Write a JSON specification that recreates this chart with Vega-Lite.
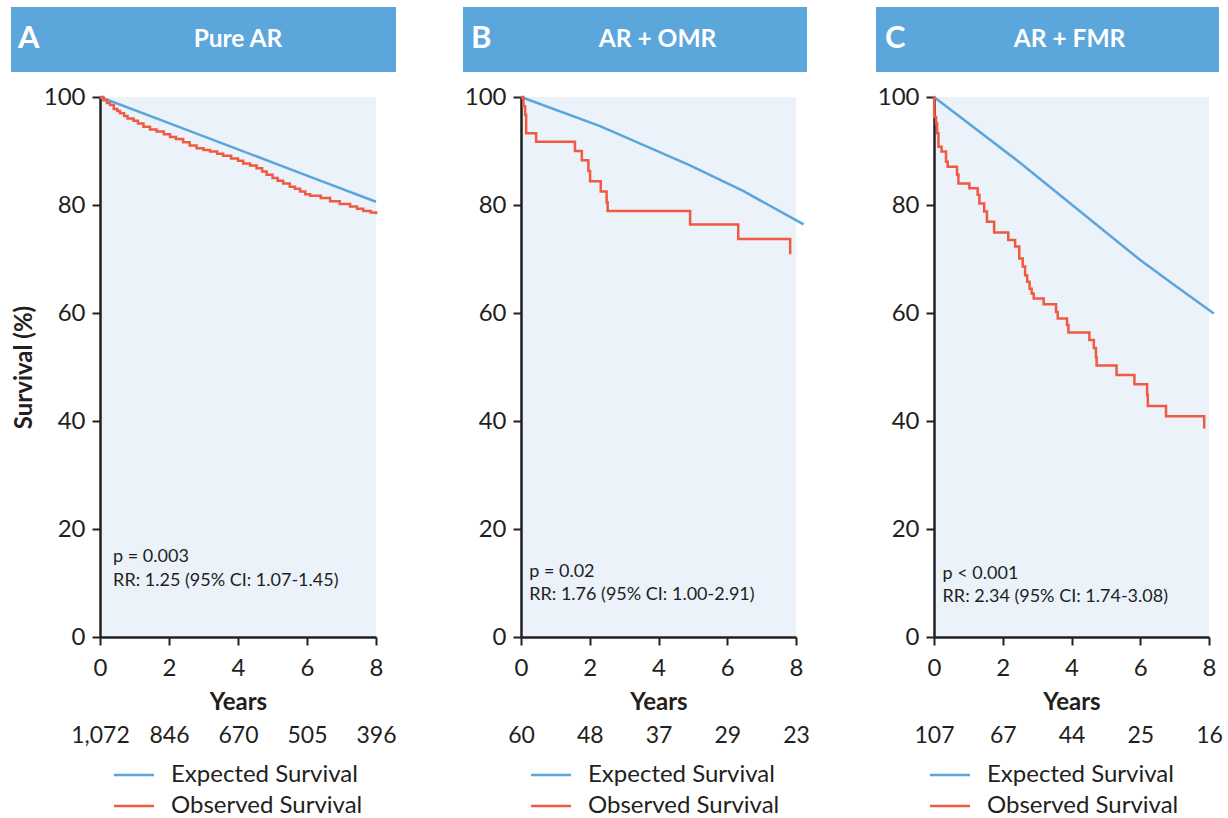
{
  "$schema": "https://vega.github.io/schema/vega-lite/v6.json",
  "padding": {"left": 11, "top": 7, "right": 0, "bottom": 0},
  "background": "white",
  "config": {
    "font": "Lato",
    "view": {"stroke": null},
    "axis": {"grid": false, "domainColor": "#231F20", "domainWidth": 2.5, "tickColor": "#231F20", "tickWidth": 2, "tickSize": 8, "labelFontSize": 24, "labelColor": "#231F20", "titleColor": "#231F20", "titleFontSize": 24, "titleFontWeight": "bold", "labelFont": "Lato", "titleFont": "Lato", "labelFlush": false, "labelOverlap": false},
    "legend": {"labelFontSize": 24, "labelColor": "#231F20", "labelFont": "Lato", "labelLimit": 400},
    "title": {"font": "Lato"},
    "text": {"font": "Lato"}
  },
  "datasets": {
    "curveA": [
      {"series": "Expected Survival", "t": 0, "s": 100},
      {"series": "Expected Survival", "t": 2, "s": 95.15},
      {"series": "Expected Survival", "t": 4, "s": 90.3},
      {"series": "Expected Survival", "t": 6, "s": 85.45},
      {"series": "Expected Survival", "t": 8, "s": 80.6},
      {"series": "Observed Survival", "t": 0, "s": 100},
      {"series": "Observed Survival", "t": 0.1, "s": 99.4},
      {"series": "Observed Survival", "t": 0.2, "s": 98.9},
      {"series": "Observed Survival", "t": 0.29, "s": 98.5},
      {"series": "Observed Survival", "t": 0.4, "s": 97.8},
      {"series": "Observed Survival", "t": 0.5, "s": 97.4},
      {"series": "Observed Survival", "t": 0.58, "s": 97.0},
      {"series": "Observed Survival", "t": 0.7, "s": 96.5},
      {"series": "Observed Survival", "t": 0.8, "s": 96.0},
      {"series": "Observed Survival", "t": 0.97, "s": 95.6},
      {"series": "Observed Survival", "t": 1.1, "s": 95.1},
      {"series": "Observed Survival", "t": 1.26, "s": 94.5},
      {"series": "Observed Survival", "t": 1.45, "s": 94.0},
      {"series": "Observed Survival", "t": 1.64, "s": 93.6},
      {"series": "Observed Survival", "t": 1.85, "s": 93.1},
      {"series": "Observed Survival", "t": 2.03, "s": 92.6},
      {"series": "Observed Survival", "t": 2.2, "s": 92.2},
      {"series": "Observed Survival", "t": 2.41, "s": 91.6},
      {"series": "Observed Survival", "t": 2.6, "s": 91.0},
      {"series": "Observed Survival", "t": 2.8, "s": 90.5},
      {"series": "Observed Survival", "t": 3.0, "s": 90.2},
      {"series": "Observed Survival", "t": 3.19, "s": 89.9},
      {"series": "Observed Survival", "t": 3.4, "s": 89.5},
      {"series": "Observed Survival", "t": 3.57, "s": 89.1},
      {"series": "Observed Survival", "t": 3.8, "s": 88.6},
      {"series": "Observed Survival", "t": 4.0, "s": 88.2},
      {"series": "Observed Survival", "t": 4.15, "s": 87.7},
      {"series": "Observed Survival", "t": 4.35, "s": 87.3},
      {"series": "Observed Survival", "t": 4.54, "s": 86.8},
      {"series": "Observed Survival", "t": 4.7, "s": 86.2},
      {"series": "Observed Survival", "t": 4.83, "s": 85.6},
      {"series": "Observed Survival", "t": 5.0, "s": 85.0},
      {"series": "Observed Survival", "t": 5.15, "s": 84.5},
      {"series": "Observed Survival", "t": 5.31, "s": 84.0},
      {"series": "Observed Survival", "t": 5.5, "s": 83.4},
      {"series": "Observed Survival", "t": 5.65, "s": 83.0},
      {"series": "Observed Survival", "t": 5.8, "s": 82.5},
      {"series": "Observed Survival", "t": 5.95, "s": 82.0},
      {"series": "Observed Survival", "t": 6.09, "s": 81.7},
      {"series": "Observed Survival", "t": 6.4, "s": 81.3},
      {"series": "Observed Survival", "t": 6.67, "s": 80.7},
      {"series": "Observed Survival", "t": 6.95, "s": 80.2},
      {"series": "Observed Survival", "t": 7.25, "s": 79.7},
      {"series": "Observed Survival", "t": 7.45, "s": 79.3},
      {"series": "Observed Survival", "t": 7.63, "s": 78.9},
      {"series": "Observed Survival", "t": 7.85, "s": 78.6},
      {"series": "Observed Survival", "t": 8.0, "s": 78.3}
    ],
    "curveB": [
      {"series": "Expected Survival", "t": 0, "s": 100},
      {"series": "Expected Survival", "t": 2.3, "s": 94.6},
      {"series": "Expected Survival", "t": 4.9, "s": 87.4},
      {"series": "Expected Survival", "t": 6.46, "s": 82.6},
      {"series": "Expected Survival", "t": 8.22, "s": 76.4},
      {"series": "Observed Survival", "t": 0, "s": 100},
      {"series": "Observed Survival", "t": 0.07, "s": 98.3},
      {"series": "Observed Survival", "t": 0.12, "s": 96.7},
      {"series": "Observed Survival", "t": 0.15, "s": 93.3},
      {"series": "Observed Survival", "t": 0.44, "s": 91.7},
      {"series": "Observed Survival", "t": 1.57, "s": 90.0},
      {"series": "Observed Survival", "t": 1.77, "s": 88.3},
      {"series": "Observed Survival", "t": 1.96, "s": 86.3},
      {"series": "Observed Survival", "t": 2.01, "s": 84.4},
      {"series": "Observed Survival", "t": 2.32, "s": 82.5},
      {"series": "Observed Survival", "t": 2.49, "s": 80.5},
      {"series": "Observed Survival", "t": 2.52, "s": 78.9},
      {"series": "Observed Survival", "t": 4.92, "s": 76.4},
      {"series": "Observed Survival", "t": 6.32, "s": 73.7},
      {"series": "Observed Survival", "t": 7.83, "s": 70.9}
    ],
    "curveC": [
      {"series": "Expected Survival", "t": 0, "s": 100},
      {"series": "Expected Survival", "t": 2.53, "s": 87.7},
      {"series": "Expected Survival", "t": 6, "s": 69.8},
      {"series": "Expected Survival", "t": 6.99, "s": 65.2},
      {"series": "Expected Survival", "t": 8.14, "s": 59.9},
      {"series": "Observed Survival", "t": 0, "s": 100},
      {"series": "Observed Survival", "t": 0.005, "s": 96.3},
      {"series": "Observed Survival", "t": 0.06, "s": 95.1},
      {"series": "Observed Survival", "t": 0.09, "s": 93.3},
      {"series": "Observed Survival", "t": 0.13, "s": 90.8},
      {"series": "Observed Survival", "t": 0.22, "s": 89.9},
      {"series": "Observed Survival", "t": 0.35, "s": 88.0},
      {"series": "Observed Survival", "t": 0.4, "s": 87.1},
      {"series": "Observed Survival", "t": 0.67, "s": 85.6},
      {"series": "Observed Survival", "t": 0.71, "s": 84.0},
      {"series": "Observed Survival", "t": 1.03, "s": 83.1},
      {"series": "Observed Survival", "t": 1.27, "s": 81.9},
      {"series": "Observed Survival", "t": 1.32, "s": 80.3},
      {"series": "Observed Survival", "t": 1.46, "s": 78.8},
      {"series": "Observed Survival", "t": 1.54, "s": 76.9},
      {"series": "Observed Survival", "t": 1.75, "s": 74.9},
      {"series": "Observed Survival", "t": 2.16, "s": 73.5},
      {"series": "Observed Survival", "t": 2.36, "s": 72.3},
      {"series": "Observed Survival", "t": 2.48, "s": 70.1},
      {"series": "Observed Survival", "t": 2.58, "s": 68.6},
      {"series": "Observed Survival", "t": 2.65, "s": 67.0},
      {"series": "Observed Survival", "t": 2.71, "s": 65.8},
      {"series": "Observed Survival", "t": 2.78, "s": 64.5},
      {"series": "Observed Survival", "t": 2.84, "s": 63.6},
      {"series": "Observed Survival", "t": 2.9, "s": 62.7},
      {"series": "Observed Survival", "t": 3.19, "s": 61.6},
      {"series": "Observed Survival", "t": 3.55, "s": 60.2},
      {"series": "Observed Survival", "t": 3.6, "s": 59.0},
      {"series": "Observed Survival", "t": 3.87, "s": 57.8},
      {"series": "Observed Survival", "t": 3.91, "s": 56.4},
      {"series": "Observed Survival", "t": 4.52, "s": 55.0},
      {"series": "Observed Survival", "t": 4.65, "s": 53.5},
      {"series": "Observed Survival", "t": 4.71, "s": 51.8},
      {"series": "Observed Survival", "t": 4.73, "s": 50.3},
      {"series": "Observed Survival", "t": 5.31, "s": 48.5},
      {"series": "Observed Survival", "t": 5.83, "s": 46.8},
      {"series": "Observed Survival", "t": 6.2, "s": 44.8},
      {"series": "Observed Survival", "t": 6.22, "s": 42.8},
      {"series": "Observed Survival", "t": 6.75, "s": 40.9},
      {"series": "Observed Survival", "t": 7.86, "s": 38.6}
    ],
    "riskA": [{"n": "1,072"}, {"n": "846"}, {"n": "670"}, {"n": "505"}, {"n": "396"}],
    "riskB": [{"n": "60"}, {"n": "48"}, {"n": "37"}, {"n": "29"}, {"n": "23"}],
    "riskC": [{"n": "107"}, {"n": "67"}, {"n": "44"}, {"n": "25"}, {"n": "16"}],
    "blank": [{}]
  },
  "spacing": 66,
  "resolve": {"scale": {"color": "independent"}, "legend": {"color": "independent"}},
  "hconcat": [
    {
      "spacing": 13,
      "resolve": {"scale": {"color": "independent"}, "legend": {"color": "independent"}},
      "vconcat": [
        {
          "width": 385, "height": 65,
          "view": {"fill": "#5BA6DA", "stroke": null},
          "data": {"values": [{"name": "Pure AR"}]},
          "title": {"text": "A", "orient": "top", "anchor": "start", "frame": "group", "offset": -72, "dx": 7, "fontSize": 31, "fontWeight": "bold", "color": "white", "baseline": "alphabetic"},
          "mark": {"type": "text", "color": "white", "fontSize": 24.5, "fontWeight": "bold", "dx": 34.5},
          "encoding": {"text": {"field": "name", "type": "nominal"}}
        },
        {
          "spacing": 0,
          "resolve": {"scale": {"color": "independent"}, "legend": {"color": "independent"}},
          "hconcat": [
            {
              "width": 1, "height": 540,
              "data": {"name": "blank"},
              "mark": {"type": "rect", "opacity": 0},
              "encoding": {}
            },
            {
              "width": 276, "height": 540,
              "view": {"fill": "#EBF2FA", "stroke": null},
              "resolve": {"scale": {"x": "independent"}, "axis": {"x": "independent"}},
              "layer": [
                {
                  "layer": [
                    {
                      "data": {"name": "curveA"},
                      "transform": [{"filter": "datum.series === 'Expected Survival'"}],
                      "mark": {"type": "line", "strokeWidth": 2.5},
                      "encoding": {
                        "x": {"field": "t", "type": "quantitative", "scale": {"domain": [0, 8], "nice": false}, "axis": {"values": [0, 2, 4, 6, 8], "title": "Years", "labelPadding": 11, "titlePadding": 10}},
                        "y": {"field": "s", "type": "quantitative", "scale": {"domain": [0, 100], "nice": false}, "axis": {"values": [0, 20, 40, 60, 80, 100], "title": "Survival (%)", "titleFontSize": 24, "titlePadding": 7, "labelPadding": 7}},
                        "color": {"field": "series", "type": "nominal", "scale": {"domain": ["Expected Survival", "Observed Survival"], "range": ["#5AA5DB", "#F05A40"]},
                          "legend": {"orient": "none", "legendX": 22, "legendY": 666, "direction": "vertical", "title": null, "symbolType": "M-2,0H2", "symbolSize": 400, "symbolStrokeWidth": 2.5, "labelOffset": 25, "rowPadding": 7}}
                      }
                    },
                    {
                      "data": {"name": "curveA"},
                      "transform": [{"filter": "datum.series === 'Observed Survival'"}],
                      "mark": {"type": "line", "strokeWidth": 2.5, "interpolate": "step-after"},
                      "encoding": {
                        "x": {"field": "t", "type": "quantitative"},
                        "y": {"field": "s", "type": "quantitative"},
                        "color": {"field": "series", "type": "nominal"}
                      }
                    },
                    {
                      "data": {"values": [{"label": ["p = 0.003", "RR: 1.25 (95% CI: 1.07-1.45)"]}]},
                      "mark": {"type": "text", "align": "left", "baseline": "middle", "fontSize": 18, "lineHeight": 23.5, "color": "#231F20"},
                      "encoding": {
                        "x": {"datum": 0.38, "type": "quantitative"},
                        "y": {"datum": 14.8, "type": "quantitative"},
                        "text": {"field": "label", "type": "nominal"}
                      }
                    }
                  ]
                },
                {
                  "data": {"name": "riskA"},
                  "mark": {"type": "point", "opacity": 0},
                  "encoding": {
                    "x": {"field": "n", "type": "ordinal", "sort": null, "scale": {"type": "point", "padding": 0}, "axis": {"orient": "bottom", "offset": 83, "domain": false, "ticks": false, "labelPadding": 4, "labelFontSize": 23, "title": null, "labelAngle": 0}}
                  }
                }
              ]
            }
          ]
        }
      ]
    },
    {
      "spacing": 13,
      "resolve": {"scale": {"color": "independent"}, "legend": {"color": "independent"}},
      "vconcat": [
        {
          "width": 344, "height": 65,
          "view": {"fill": "#5BA6DA", "stroke": null},
          "data": {"values": [{"name": "AR + OMR"}]},
          "title": {"text": "B", "orient": "top", "anchor": "start", "frame": "group", "offset": -72, "dx": 8, "fontSize": 31, "fontWeight": "bold", "color": "white", "baseline": "alphabetic"},
          "mark": {"type": "text", "color": "white", "fontSize": 24.5, "fontWeight": "bold", "dx": 22.5},
          "encoding": {"text": {"field": "name", "type": "nominal"}}
        },
        {
          "spacing": 0,
          "resolve": {"scale": {"color": "independent"}, "legend": {"color": "independent"}},
          "hconcat": [
            {
              "width": 1, "height": 540,
              "data": {"name": "blank"},
              "mark": {"type": "rect", "opacity": 0},
              "encoding": {}
            },
            {
              "width": 275, "height": 540,
              "view": {"fill": "#EBF2FA", "stroke": null},
              "resolve": {"scale": {"x": "independent"}, "axis": {"x": "independent"}},
              "layer": [
                {
                  "layer": [
                    {
                      "data": {"name": "curveB"},
                      "transform": [{"filter": "datum.series === 'Expected Survival'"}],
                      "mark": {"type": "line", "strokeWidth": 2.5},
                      "encoding": {
                        "x": {"field": "t", "type": "quantitative", "scale": {"domain": [0, 8], "nice": false}, "axis": {"values": [0, 2, 4, 6, 8], "title": "Years", "labelPadding": 11, "titlePadding": 10}},
                        "y": {"field": "s", "type": "quantitative", "scale": {"domain": [0, 100], "nice": false}, "axis": {"values": [0, 20, 40, 60, 80, 100], "title": null, "labelPadding": 7}},
                        "color": {"field": "series", "type": "nominal", "scale": {"domain": ["Expected Survival", "Observed Survival"], "range": ["#5AA5DB", "#F05A40"]},
                          "legend": {"orient": "none", "legendX": 18, "legendY": 666, "direction": "vertical", "title": null, "symbolType": "M-2,0H2", "symbolSize": 400, "symbolStrokeWidth": 2.5, "labelOffset": 25, "rowPadding": 7}}
                      }
                    },
                    {
                      "data": {"name": "curveB"},
                      "transform": [{"filter": "datum.series === 'Observed Survival'"}],
                      "mark": {"type": "line", "strokeWidth": 2.5, "interpolate": "step-after"},
                      "encoding": {
                        "x": {"field": "t", "type": "quantitative"},
                        "y": {"field": "s", "type": "quantitative"},
                        "color": {"field": "series", "type": "nominal"}
                      }
                    },
                    {
                      "data": {"values": [{"label": ["p = 0.02", "RR: 1.76 (95% CI: 1.00-2.91)"]}]},
                      "mark": {"type": "text", "align": "left", "baseline": "middle", "fontSize": 18, "lineHeight": 23.5, "color": "#231F20"},
                      "encoding": {
                        "x": {"datum": 0.24, "type": "quantitative"},
                        "y": {"datum": 12.05, "type": "quantitative"},
                        "text": {"field": "label", "type": "nominal"}
                      }
                    }
                  ]
                },
                {
                  "data": {"name": "riskB"},
                  "mark": {"type": "point", "opacity": 0},
                  "encoding": {
                    "x": {"field": "n", "type": "ordinal", "sort": null, "scale": {"type": "point", "padding": 0}, "axis": {"orient": "bottom", "offset": 83, "domain": false, "ticks": false, "labelPadding": 4, "labelFontSize": 23, "title": null, "labelAngle": 0}}
                  }
                }
              ]
            }
          ]
        }
      ]
    },
    {
      "spacing": 13,
      "resolve": {"scale": {"color": "independent"}, "legend": {"color": "independent"}},
      "vconcat": [
        {
          "width": 343, "height": 65,
          "view": {"fill": "#5BA6DA", "stroke": null},
          "data": {"values": [{"name": "AR + FMR"}]},
          "title": {"text": "C", "orient": "top", "anchor": "start", "frame": "group", "offset": -72, "dx": 9, "fontSize": 31, "fontWeight": "bold", "color": "white", "baseline": "alphabetic"},
          "mark": {"type": "text", "color": "white", "fontSize": 24.5, "fontWeight": "bold", "dx": 22},
          "encoding": {"text": {"field": "name", "type": "nominal"}}
        },
        {
          "spacing": 0,
          "resolve": {"scale": {"color": "independent"}, "legend": {"color": "independent"}},
          "hconcat": [
            {
              "width": 1, "height": 540,
              "data": {"name": "blank"},
              "mark": {"type": "rect", "opacity": 0},
              "encoding": {}
            },
            {
              "width": 275, "height": 540,
              "view": {"fill": "#EBF2FA", "stroke": null},
              "resolve": {"scale": {"x": "independent"}, "axis": {"x": "independent"}},
              "layer": [
                {
                  "layer": [
                    {
                      "data": {"name": "curveC"},
                      "transform": [{"filter": "datum.series === 'Expected Survival'"}],
                      "mark": {"type": "line", "strokeWidth": 2.5},
                      "encoding": {
                        "x": {"field": "t", "type": "quantitative", "scale": {"domain": [0, 8], "nice": false}, "axis": {"values": [0, 2, 4, 6, 8], "title": "Years", "labelPadding": 11, "titlePadding": 10}},
                        "y": {"field": "s", "type": "quantitative", "scale": {"domain": [0, 100], "nice": false}, "axis": {"values": [0, 20, 40, 60, 80, 100], "title": null, "labelPadding": 7}},
                        "color": {"field": "series", "type": "nominal", "scale": {"domain": ["Expected Survival", "Observed Survival"], "range": ["#5AA5DB", "#F05A40"]},
                          "legend": {"orient": "none", "legendX": 4, "legendY": 666, "direction": "vertical", "title": null, "symbolType": "M-2,0H2", "symbolSize": 400, "symbolStrokeWidth": 2.5, "labelOffset": 25, "rowPadding": 7}}
                      }
                    },
                    {
                      "data": {"name": "curveC"},
                      "transform": [{"filter": "datum.series === 'Observed Survival'"}],
                      "mark": {"type": "line", "strokeWidth": 2.5, "interpolate": "step-after"},
                      "encoding": {
                        "x": {"field": "t", "type": "quantitative"},
                        "y": {"field": "s", "type": "quantitative"},
                        "color": {"field": "series", "type": "nominal"}
                      }
                    },
                    {
                      "data": {"values": [{"label": ["p < 0.001", "RR: 2.34 (95% CI: 1.74-3.08)"]}]},
                      "mark": {"type": "text", "align": "left", "baseline": "middle", "fontSize": 18, "lineHeight": 23.5, "color": "#231F20"},
                      "encoding": {
                        "x": {"datum": 0.25, "type": "quantitative"},
                        "y": {"datum": 11.7, "type": "quantitative"},
                        "text": {"field": "label", "type": "nominal"}
                      }
                    }
                  ]
                },
                {
                  "data": {"name": "riskC"},
                  "mark": {"type": "point", "opacity": 0},
                  "encoding": {
                    "x": {"field": "n", "type": "ordinal", "sort": null, "scale": {"type": "point", "padding": 0}, "axis": {"orient": "bottom", "offset": 83, "domain": false, "ticks": false, "labelPadding": 4, "labelFontSize": 23, "title": null, "labelAngle": 0}}
                  }
                }
              ]
            }
          ]
        }
      ]
    }
  ]
}
